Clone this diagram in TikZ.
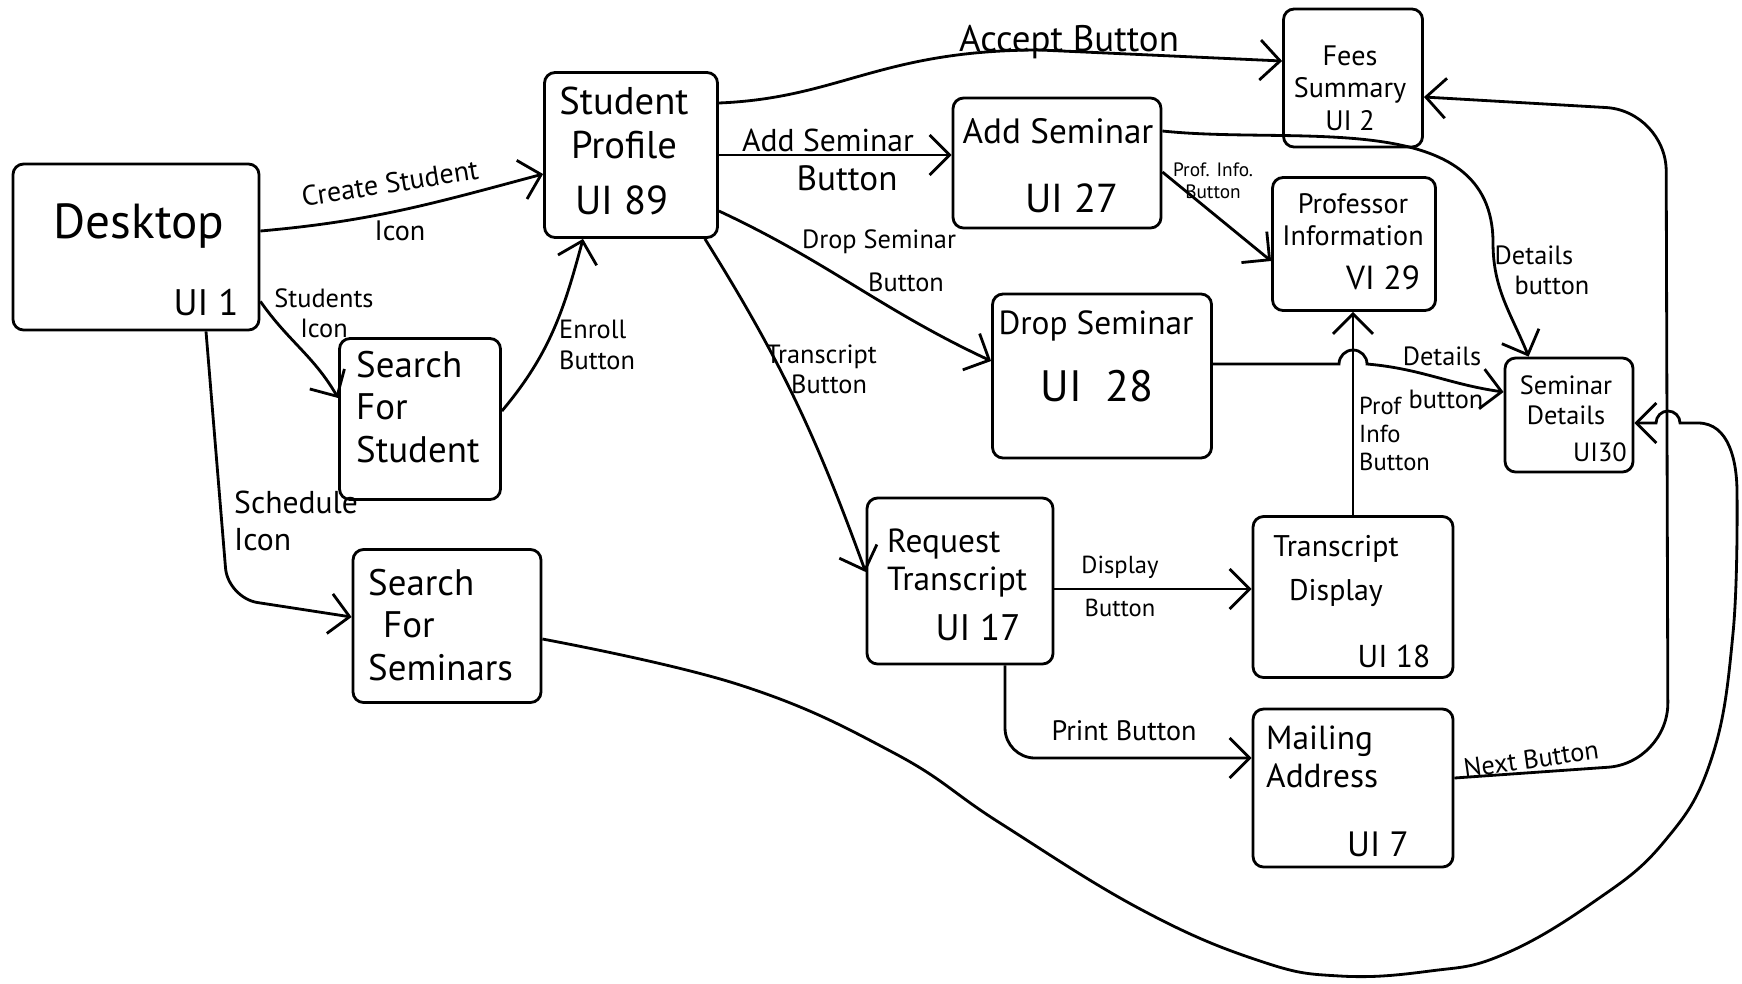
\documentclass[tikz,border=0pt]{standalone}
\usepackage{fontspec}
\setmainfont{PT Sans}
\usetikzlibrary{arrows.meta}

\newcommand{\handsize}[1]{\fontsize{#1}{#1}\selectfont\setlength{\baselineskip}{1.15\baselineskip}}

\tikzset{
  screen/.style={draw, thick, rounded corners=3pt},
  title/.style={align=center, inner sep=1pt},
  tag/.style={align=center, inner sep=1pt},
  flow/.style={thick, -{Straight Barb[length=2mm,width=4mm]}},
}

\begin{document}
\begin{tikzpicture}
\useasboundingbox (0,0) rectangle (17.42,9.83);

% screens
\node[screen, minimum width=2.46cm, minimum height=1.66cm] (desktop) at (1.36,7.36) {};
\node[screen, minimum width=1.73cm, minimum height=1.65cm] (profile) at (6.31,8.28) {};
\node[screen, minimum width=2.08cm, minimum height=1.30cm] (addsem) at (10.57,8.20) {};
\node[screen, minimum width=1.39cm, minimum height=1.38cm] (fees) at (13.53,9.05) {};
\node[screen, minimum width=1.63cm, minimum height=1.33cm] (profinfo) at (13.54,7.39) {};
\node[screen, minimum width=2.19cm, minimum height=1.64cm] (dropsem) at (11.02,6.07) {};
\node[screen, minimum width=1.28cm, minimum height=1.14cm] (semdet) at (15.69,5.68) {};
\node[screen, minimum width=1.61cm, minimum height=1.61cm] (searchstu) at (4.20,5.64) {};
\node[screen, minimum width=1.88cm, minimum height=1.53cm] (searchsem) at (4.47,3.57) {};
\node[screen, minimum width=1.86cm, minimum height=1.66cm] (reqtrans) at (9.60,4.02) {};
\node[screen, minimum width=2.00cm, minimum height=1.61cm] (transdisp) at (13.53,3.86) {};
\node[screen, minimum width=2.00cm, minimum height=1.58cm] (mailing) at (13.53,1.95) {};

% screen texts
\node[title, font=\handsize{14}] (desktop-t) at (1.39,7.57) {Desktop};
\node[title, font=\handsize{10.5}] (desktop-ui) at (2.06,6.80) {UI 1};
\node[title, font=\handsize{11}] (profile-t) at (6.24,8.60) {Student\\Profile};
\node[title, font=\handsize{11.5}] (profile-ui) at (6.22,7.83) {UI 89};
\node[title, font=\handsize{10}] (addsem-t) at (10.58,8.52) {Add Seminar};
\node[title, font=\handsize{11.5}] (addsem-ui) at (10.72,7.85) {UI 27};
\node[title, font=\handsize{8}] (fees-t) at (13.50,8.95) {Fees\\Summary\\UI 2};
\node[title, font=\handsize{8}] (profinfo-t) at (13.53,7.63) {Professor\\Information};
\node[title, font=\handsize{9.5}] (profinfo-ui) at (13.83,7.05) {VI 29};
\node[title, font=\handsize{9.5}] (dropsem-t) at (10.96,6.57) {Drop Seminar};
\node[title, font=\handsize{12.5}] (dropsem-ui) at (10.97,5.97) {UI \ 28};
\node[title, font=\handsize{7.5}] (semdet-t) at (15.66,5.83) {Seminar\\Details};
\node[title, font=\handsize{7.5}] (semdet-ui) at (16.00,5.31) {UI30};
\node[title, font=\handsize{10.5}, align=left, anchor=west] (searchstu-t) at (3.52,5.76) {Search\\For\\Student};
\node[title, font=\handsize{10.5}, align=left, anchor=west] (searchsem-t) at (3.64,3.58) {Search\\\hspace*{1.5mm}For\\Seminars};
\node[title, font=\handsize{9.5}, align=left, anchor=west] (reqtrans-t) at (8.83,4.20) {Request\\Transcript};
\node[title, font=\handsize{10.5}] (reqtrans-ui) at (9.78,3.55) {UI 17};
\node[title, font=\handsize{8.5}] (transdisp-t) at (13.36,4.12) {Transcript\\[1mm]Display};
\node[title, font=\handsize{9}] (transdisp-ui) at (13.94,3.27) {UI 18};
\node[title, font=\handsize{9.5}, align=left, anchor=west] (mailing-t) at (12.62,2.26) {Mailing\\Address};
\node[title, font=\handsize{10}] (mailing-ui) at (13.78,1.39) {UI 7};

% connectors
\draw[flow] ([yshift=1.6mm]desktop.east) to[out=5,in=195] ([yshift=-1.9mm]profile.west);
\draw[flow] ([yshift=3mm]desktop.south east) to[out=-55,in=120] ([yshift=2.1mm]searchstu.west);
\draw[flow] ([yshift=0.8mm]searchstu.east) to[out=50,in=-105] ([xshift=-4.8mm]profile.south);
\draw[flow, rounded corners=3mm] ([xshift=7mm]desktop.south) -- (2.28,3.85) -- ([yshift=0.9mm]searchsem.west);
\draw[flow] ([yshift=5.2mm]profile.east) .. controls (8.4,8.85) and (8.8,9.33) .. (10.4,9.33) -- ([yshift=1.7mm]fees.west);
\draw[flow] (profile.east) -- (profile.east -| addsem.west);
\draw[flow] ([yshift=-5.6mm]profile.east) to[out=-25,in=155] ([yshift=1.5mm]dropsem.west);
\draw[flow] ([xshift=-1.4mm]profile.south east) to[out=-58,in=110] ([yshift=0.9mm]reqtrans.west);
\draw[flow] ([yshift=-0.9mm]addsem.east) -- ([yshift=-1.7mm]profinfo.west);
\draw[flow] ([yshift=3.2mm]addsem.east) to[out=-6,in=90] (14.93,7.40) to[out=-90,in=112] ([xshift=2.5mm]semdet.north west);
\draw[flow] ([yshift=1.2mm]dropsem.east) -- (13.39,6.19) arc[start angle=180,end angle=0,radius=0.14] to[out=-5,in=172] ([yshift=2.3mm]semdet.west);
\draw[flow] (transdisp.north) -- (transdisp.north |- profinfo.south);
\coordinate (disp-start) at ([yshift=-0.8mm]reqtrans.east);
\draw[flow] (disp-start) -- (disp-start -| transdisp.west);
\draw[flow, rounded corners=3mm] ([xshift=4.5mm]reqtrans.south) |- ([yshift=3mm]mailing.west);
\draw[flow, rounded corners=6mm] ([yshift=1mm]mailing.east) -- (16.68,2.20) -- (16.66,8.72) -- ([yshift=-1.9mm]fees.east);
\draw[flow] plot[smooth, tension=0.7] coordinates {([yshift=-1.3mm]searchsem.east) (7.4,2.98) (8.94,2.30) (10.0,1.60) (11.42,0.73) (12.6,0.22) (13.4,0.07) (14.3,0.12) (15.02,0.28) (15.92,0.80) (16.63,1.40) (17.11,2.23) (17.33,3.50) (17.37,4.90)}
  to[out=90,in=0] (16.98,5.60) -- (16.80,5.60) arc[start angle=0,end angle=180,radius=0.12] -- ([yshift=-0.8mm]semdet.east);

% connector labels
\node[tag, font=\handsize{8}, rotate=9] (create-l) at (3.90,8.00) {Create Student};
\node[tag, font=\handsize{8}] (create-l2) at (4.00,7.52) {Icon};
\node[tag, font=\handsize{7.5}] (students-l) at (3.24,6.70) {Students\\Icon};
\node[tag, font=\handsize{7.5}, align=left, anchor=west] (enroll-l) at (5.55,6.38) {Enroll\\Button};
\node[tag, font=\handsize{9}, align=left, anchor=west] (schedule-l) at (2.30,4.62) {Schedule\\Icon};
\node[tag, font=\handsize{10.5}] (accept-l) at (10.69,9.41) {Accept Button};
\node[tag, font=\handsize{9}] (addbtn-l) at (8.28,8.43) {Add Seminar};
\node[tag, font=\handsize{10}] (addbtn-l2) at (8.47,8.05) {Button};
\node[tag, font=\handsize{7.5}] (dropbtn-l) at (8.79,7.41) {Drop Seminar};
\node[tag, font=\handsize{7.5}] (dropbtn-l2) at (9.06,7.01) {Button};
\node[tag, font=\handsize{7.5}, align=left, anchor=west] (transbtn-l) at (7.62,6.14) {Transcript\\\hspace*{2.5mm}Button};
\node[tag, font=\handsize{5.5}] (profbtn-l) at (12.13,8.02) {Prof. Info.\\Button};
\node[tag, font=\handsize{7.5}, align=left] (detbtn-l) at (15.42,7.13) {Details\\\hspace*{2mm}button};
\node[tag, font=\handsize{7.5}] (detbtn2-l) at (14.42,6.27) {Details};
\node[tag, font=\handsize{7.5}] (detbtn2-l2) at (14.46,5.84) {button};
\node[tag, font=\handsize{7}, align=left, anchor=west] (profbtn2-l) at (13.55,5.49) {Prof\\Info\\Button};
\node[tag, font=\handsize{7}] (disp-l) at (11.20,4.16) {Display};
\node[tag, font=\handsize{7}] (disp-l2) at (11.20,3.75) {Button};
\node[tag, font=\handsize{8}] (print-l) at (11.24,2.52) {Print Button};
\node[tag, font=\handsize{7.5}, rotate=8] (next-l) at (15.31,2.24) {Next Button};

\end{tikzpicture}
\end{document}
